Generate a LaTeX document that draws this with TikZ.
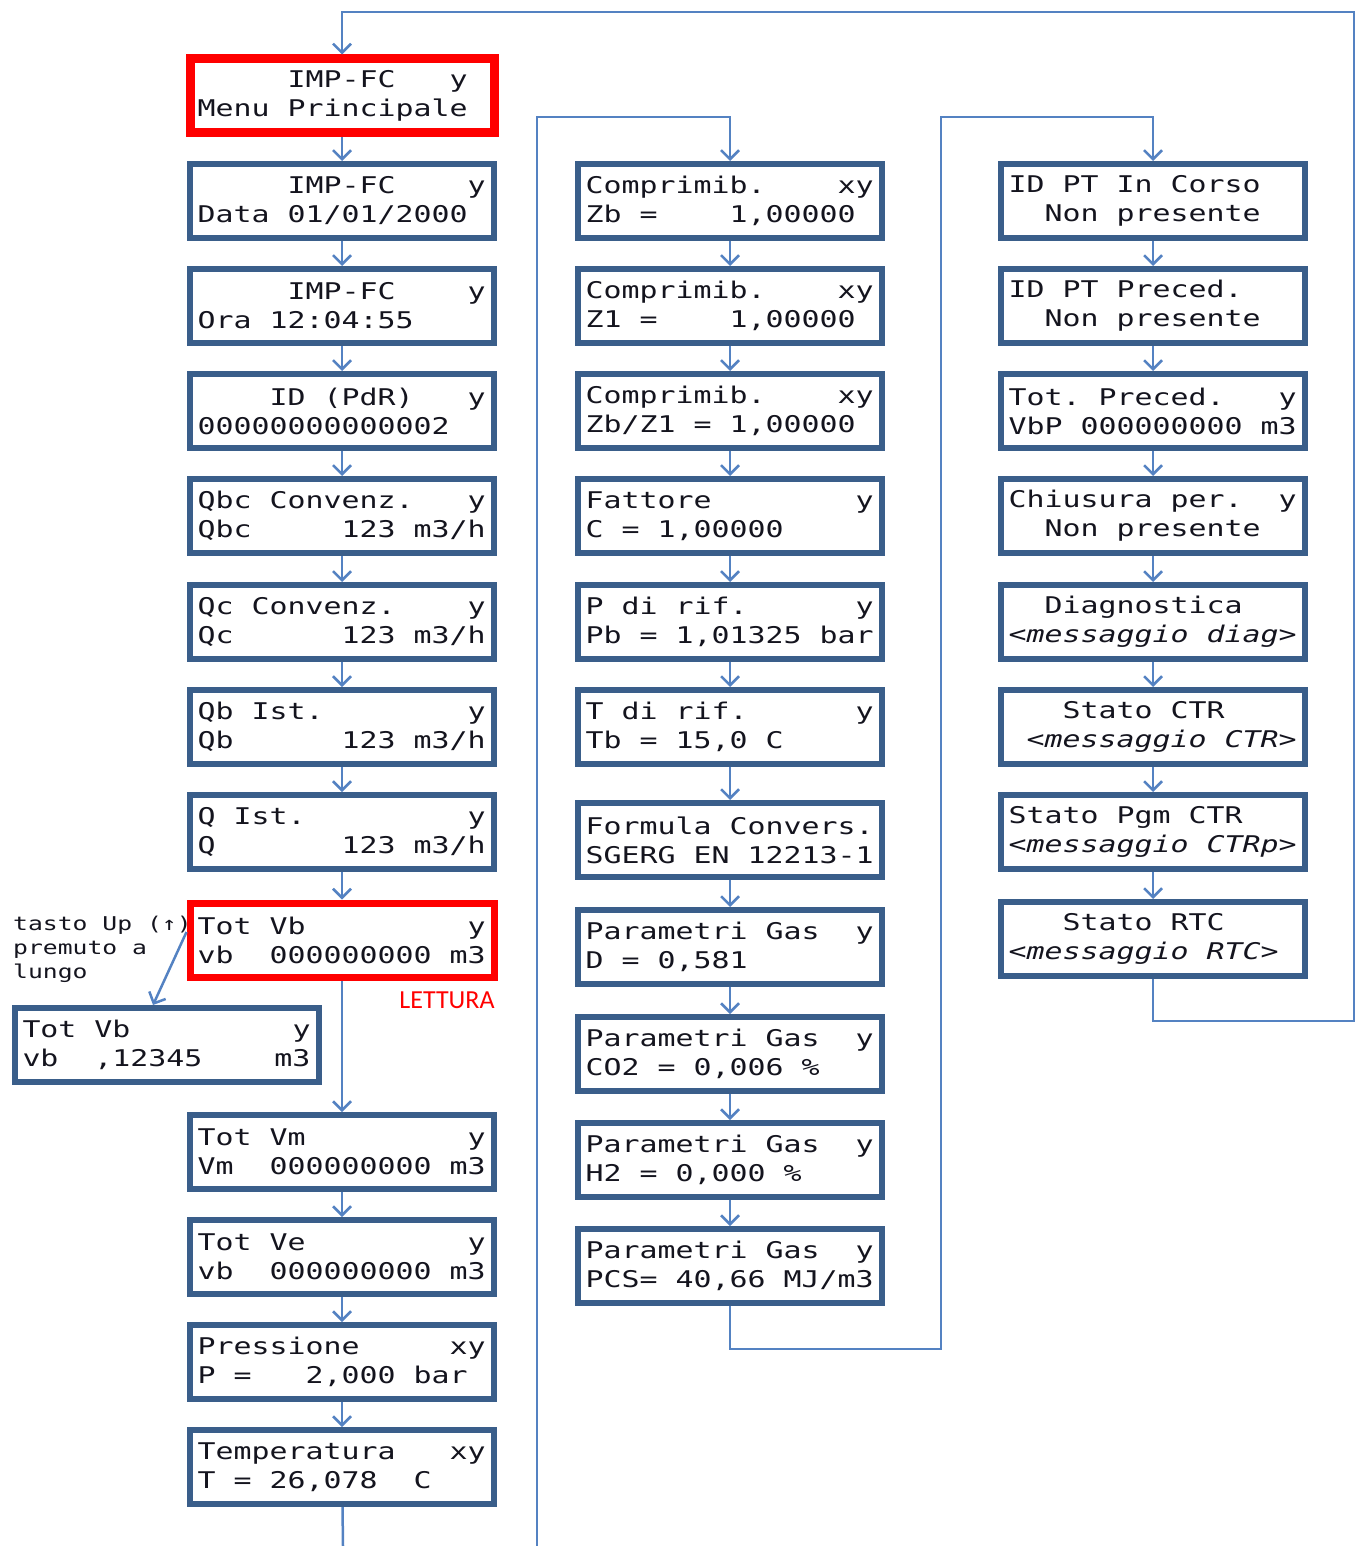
\documentclass[tikz,border=0pt]{standalone}
\usepackage{fontspec}
\usetikzlibrary{arrows.meta}
\newfontfamily\lcdfont[FakeStretch=1.3]{DejaVu Sans Mono}
\newfontfamily\notefont{Carlito}
\definecolor{lcdblue}{RGB}{58,94,138}
\definecolor{flowblue}{RGB}{84,130,194}
\definecolor{lcdtext}{RGB}{20,20,30}
% spazio fisso largo quanto un carattere
\newcommand\lcdfix{\setbox0\hbox{0}\fontdimen2\font=\wd0\relax
  \fontdimen3\font=0pt\relax\fontdimen4\font=0pt\relax
  \spaceskip=\wd0\relax\xspaceskip=\wd0\relax}
\newcommand\lcdit[1]{{\itshape\lcdfix #1}}
\tikzset{
  lcd/.style={draw=lcdblue, line width=6pt, fill=white, text=lcdtext,
    minimum width=304pt, minimum height=74pt, text width=289pt,
    align=flush left, inner sep=0pt, font={\lcdfont\fontsize{23}{29}\selectfont\lcdfix}},
  lcdred/.style={lcd, draw=red},
  flow/.style={draw=flowblue, line width=2.5pt, -{Straight Barb[length=9pt,width=18pt]}},
  flowline/.style={draw=flowblue, line width=2.5pt},
}
\begin{document}
\begin{tikzpicture}[x=1pt,y=-1pt]
\useasboundingbox (0,0) rectangle (1359,1546);

% colonna 1
\node[lcdred,line width=9pt] (menu) at (342,96) {~~~~~IMP-FC~~~y\\Menu~Principale};
\node[lcd] (data) at (342,201) {~~~~~IMP-FC~~~~y\\Data~01/01/2000};
\node[lcd] (ora) at (342,306) {~~~~~IMP-FC~~~~y\\Ora~12:04:55};
\node[lcd] (pdr) at (342,411) {~~~~ID~(PdR)~~~y\\00000000000002};
\node[lcd] (qbc) at (342,516) {Qbc~Convenz.~~~y\\Qbc~~~~~123~m3/h};
\node[lcd] (qc) at (342,622) {Qc~Convenz.~~~~y\\Qc~~~~~~123~m3/h};
\node[lcd] (qb) at (342,727) {Qb~Ist.~~~~~~~~y\\Qb~~~~~~123~m3/h};
\node[lcd] (q) at (342,832) {Q~Ist.~~~~~~~~~y\\Q~~~~~~~123~m3/h};
\node[lcdred,line width=7pt] (totvb) at (342,940) {Tot~Vb~~~~~~~~~y\\vb~~000000000~m3};
\node[lcd] (vbfine) at (167,1045) {Tot~Vb~~~~~~~~~y\\vb~~,12345~~~~m3};
\node[lcd] (totvm) at (342,1152) {Tot~Vm~~~~~~~~~y\\Vm~~000000000~m3};
\node[lcd] (totve) at (342,1257) {Tot~Ve~~~~~~~~~y\\vb~~000000000~m3};
\node[lcd] (press) at (342,1362) {Pressione~~~~~xy\\P~=~~~2,000~bar};
\node[lcd] (temp) at (342,1467) {Temperatura~~~xy\\T~=~26,078~~C};

% colonna 2
\node[lcd] (zb) at (730,201) {Comprimib.~~~~xy\\Zb~=~~~~1,00000};
\node[lcd] (zuno) at (730,306) {Comprimib.~~~~xy\\Z1~=~~~~1,00000};
\node[lcd] (zbzuno) at (730,411) {Comprimib.~~~~xy\\Zb/Z1~=~1,00000};
\node[lcd] (fatt) at (730,516) {Fattore~~~~~~~~y\\C~=~1,00000};
\node[lcd] (prif) at (730,622) {P~di~rif.~~~~~~y\\Pb~=~1,01325~bar};
\node[lcd] (trif) at (730,727) {T~di~rif.~~~~~~y\\Tb~=~15,0~C};
\node[lcd] (form) at (730,840) {Formula~Convers.\\SGERG~EN~12213-1};
\node[lcd] (gasd) at (730,947) {Parametri~Gas~~y\\D~=~0,581};
\node[lcd] (gasco) at (730,1054) {Parametri~Gas~~y\\CO2~=~0,006~\%};
\node[lcd] (gash) at (730,1160) {Parametri~Gas~~y\\H2~=~0,000~\%};
\node[lcd] (gaspcs) at (730,1266) {Parametri~Gas~~y\\PCS=~40,66~MJ/m3};

% colonna 3
\node[lcd] (idc) at (1153,201) {ID~PT~In~Corso\\\mbox{}~~Non~presente};
\node[lcd] (idp) at (1153,306) {ID~PT~Preced.\\\mbox{}~~Non~presente};
\node[lcd] (totp) at (1153,411) {Tot.~Preced.~~~y\\VbP~000000000~m3};
\node[lcd] (chius) at (1153,516) {Chiusura~per.~~y\\\mbox{}~~Non~presente};
\node[lcd] (diag) at (1153,622) {~~Diagnostica\\\lcdit{<messaggio~diag>}};
\node[lcd] (ctr) at (1153,727) {~~~Stato~CTR\\\mbox{}~\lcdit{<messaggio~CTR>}};
\node[lcd] (pgm) at (1153,832) {Stato~Pgm~CTR\\\lcdit{<messaggio~CTRp>}};
\node[lcd] (rtc) at (1153,939) {~~~Stato~RTC\\\lcdit{<messaggio~RTC>}};

% note
\node[anchor=north west, align=flush left, inner sep=0pt, text=lcdtext,
  font={\lcdfont\fontsize{19}{24}\selectfont\lcdfix}] (tasto) at (13,916)
  {tasto~Up~(↑)\\premuto~a\\lungo};
\node[text=red, font={\notefont\fontsize{26}{26}\selectfont}] (lettura) at (447,1000) {LETTURA};

\coordinate (outA) at (343,1546);
\coordinate (inB) at (537,1546);

% frecce
\foreach \a/\b in {menu/data,data/ora,ora/pdr,pdr/qbc,qbc/qc,qc/qb,qb/q,q/totvb,
  totvb/totvm,totvm/totve,totve/press,press/temp,
  zb/zuno,zuno/zbzuno,zbzuno/fatt,fatt/prif,prif/trif,trif/form,form/gasd,gasd/gasco,gasco/gash,gash/gaspcs,
  idc/idp,idp/totp,totp/chius,chius/diag,diag/ctr,ctr/pgm,pgm/rtc}
  \draw[flow] (\a) -- (\b);

\draw[flow] ([yshift=8pt]totvb.west) -- ([xshift=-14pt]vbfine.north);
\draw[flowline] (temp) -- (outA);
\draw[flow] (inB) -- (537,117) -| (zb.north);
\draw[flow] (gaspcs.south) -- ++(0,43) -| (941,117) -| (idc.north);
\draw[flow] (rtc.south) -- ++(0,42) -| (1354,12) -| (menu.north);
\end{tikzpicture}
\end{document}
